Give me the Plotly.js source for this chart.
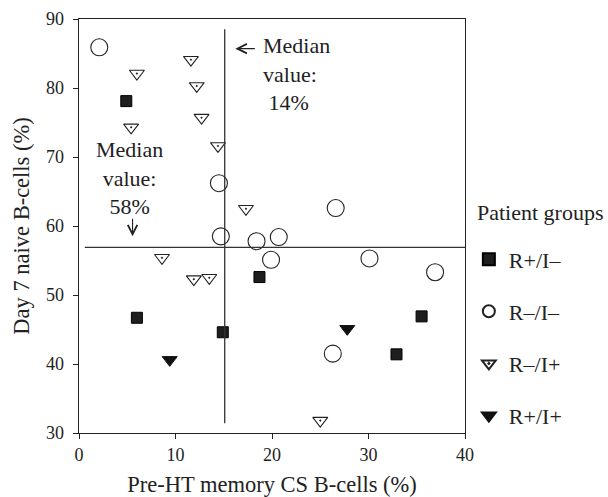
<!DOCTYPE html>
<html>
<head>
<meta charset="utf-8">
<script src="https://cdn.plot.ly/plotly-3.0.1.min.js"></script>
<style>html,body{margin:0;padding:0;background:#fff;}</style>
</head>
<body>
<div id="chart" style="width:608px;height:497px;"></div>
<script>
// Data
const groupNames = ["R+/I\u2013", "R\u2013/I\u2013", "R\u2013/I+", "R+/I+"];

const rpImX = [4.9, 6.0, 14.9, 18.7, 32.9, 35.5];
const rpImY = [78.1, 46.7, 44.6, 52.6, 41.4, 46.9];

const rmImX = [2.1, 14.5, 14.7, 18.4, 20.7, 19.9, 26.6, 30.1, 36.9, 26.3];
const rmImY = [85.9, 66.2, 58.5, 57.8, 58.4, 55.1, 62.6, 55.3, 53.3, 41.5];

const rmIpX = [11.6, 6.0, 12.2, 12.7, 5.4, 14.4, 17.3, 8.6, 11.9, 13.5, 25.0];
const rmIpY = [84.1, 82.1, 80.3, 75.7, 74.3, 71.6, 62.5, 55.4, 52.3, 52.5, 31.8];

const rpIpX = [9.4, 27.8];
const rpIpY = [40.6, 45.1];

// Median reference lines
const medianX = 15.1;
const medianXSpan = [31.4, 88.5];
const medianY = 56.9;
const medianYSpan = [0.6, 40];

const xTicks = [0, 10, 20, 30, 40];
const yTicks = [30, 40, 50, 60, 70, 80, 90];

const serif = "Liberation Serif, Times New Roman, serif";
const ink = "#222";

const traces = [
  {x: rpImX, y: rpImY, name: groupNames[0], legendgroup: "g1", type: "scatter", mode: "markers",
   marker: {symbol: "square", size: 11, color: "#1e1e1e", line: {color: "#000", width: 1}}},
  {x: rmImX, y: rmImY, name: groupNames[1], legendgroup: "g2", type: "scatter", mode: "markers",
   marker: {symbol: "circle-open", size: 17, color: ink, line: {color: ink, width: 1.1}}},
  {x: rmIpX, y: rmIpY, name: groupNames[2], legendgroup: "g3", type: "scatter", mode: "markers",
   marker: {symbol: "triangle-down-open-dot", size: 13, color: ink, line: {color: ink, width: 1.1}}},
  {x: rpIpX, y: rpIpY, name: groupNames[3], legendgroup: "g4", type: "scatter", mode: "markers",
   marker: {symbol: "triangle-down", size: 13, color: "#111", line: {color: "#111", width: 1}}}
];

const arrowStyle = {showarrow: true, arrowhead: 5, arrowsize: 1.7, arrowwidth: 1.1, arrowcolor: ink, standoff: 0, startstandoff: 0};

const layout = {
  width: 608, height: 497,
  margin: {l: 79, r: 143, t: 19, b: 64},
  paper_bgcolor: "#fff", plot_bgcolor: "#fff",
  font: {family: serif, color: ink, size: 18},
  showlegend: true,
  legend: {
    x: 1.01, xanchor: "left", y: 0.47, yanchor: "top",
    font: {family: serif, size: 22, color: ink},
    tracegroupgap: 20.5, itemsizing: "constant", bgcolor: "rgba(0,0,0,0)"
  },
  xaxis: {
    range: [0, 40], tickvals: xTicks, ticktext: xTicks.map(String),
    showgrid: false, zeroline: false, showline: true, mirror: true,
    linecolor: ink, linewidth: 1.3, ticks: "outside", ticklen: 5, tickcolor: ink,
    tickfont: {family: serif, size: 18, color: ink}, ticklabelstandoff: 0,
    title: {text: "Pre-HT memory CS B-cells (%)", font: {family: serif, size: 22.5, color: ink}, standoff: 15}
  },
  yaxis: {
    range: [30, 90], tickvals: yTicks, ticktext: yTicks.map(String),
    showgrid: false, zeroline: false, showline: true, mirror: true,
    linecolor: ink, linewidth: 1.3, ticks: "outside", ticklen: 5, tickcolor: ink,
    tickfont: {family: serif, size: 18, color: ink}, ticklabelstandoff: 5,
    title: {text: "Day 7 naive B-cells (%)", font: {family: serif, size: 22.5, color: ink}, standoff: 10}
  },
  shapes: [
    {type: "line", xref: "x", yref: "y", x0: medianX, x1: medianX, y0: medianXSpan[0], y1: medianXSpan[1],
     line: {color: "#333", width: 1.3}},
    {type: "line", xref: "x", yref: "y", x0: medianYSpan[0], x1: medianYSpan[1], y0: medianY, y1: medianY,
     line: {color: "#333", width: 1.3}}
  ],
  annotations: [
    {xref: "x", yref: "y", x: 5.25, y: 67.0, text: "Median<br>value:<br>58%", showarrow: false,
     align: "center", xanchor: "center", yanchor: "middle", font: {family: serif, size: 22, color: ink}},
    Object.assign({xref: "x", yref: "y", x: 5.55, y: 58.5, ax: 0, ay: -19, text: ""}, arrowStyle),
    Object.assign({xref: "x", yref: "y", x: 16.2, y: 85.7, ax: 21, ay: 0, text: ""}, arrowStyle),
    {xref: "x", yref: "y", x: 18.9, y: 82.0, text: "Median<br>value:<br>&nbsp;14%", showarrow: false,
     align: "left", xanchor: "left", yanchor: "middle", font: {family: serif, size: 22, color: ink}},
    {xref: "paper", yref: "paper", x: 1.025, y: 0.532, text: "Patient groups", showarrow: false,
     xanchor: "left", yanchor: "middle", font: {family: serif, size: 22, color: ink}}
  ]
};

Plotly.newPlot("chart", traces, layout, {displayModeBar: false, staticPlot: true});
</script>
</body>
</html>
